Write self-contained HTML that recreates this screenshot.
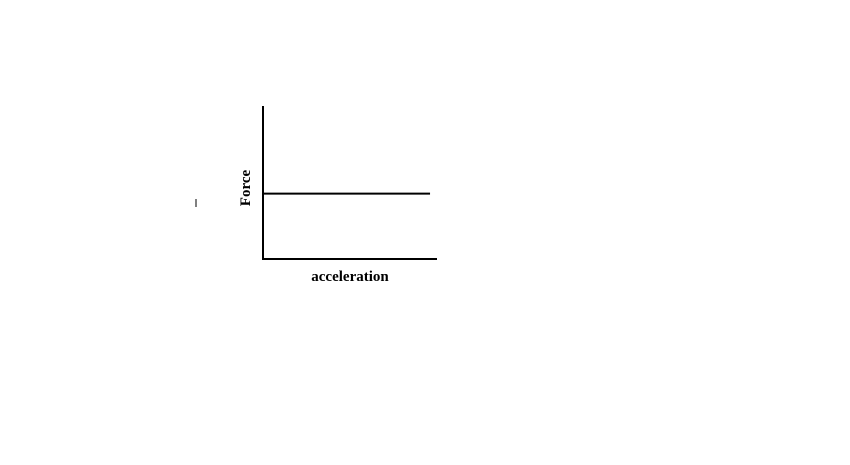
<!DOCTYPE html>
<html><head><meta charset="utf-8"><style>
body{margin:0;background:#fff;width:850px;height:460px;overflow:hidden}
svg text{font-family:"Liberation Serif",serif;font-weight:bold;font-size:15px;fill:#000}
</style></head><body>
<svg id="c" width="850" height="460">
<line x1="196" y1="199" x2="196" y2="207" stroke="#000" stroke-width="1"/>
<line x1="263" y1="106" x2="263" y2="260" stroke="#000" stroke-width="2"/>
<line x1="262" y1="259" x2="437" y2="259" stroke="#000" stroke-width="2"/>
<text x="250" y="188" text-anchor="middle" transform="rotate(-90 250 188)">Force</text>
<text x="350" y="281" text-anchor="middle">acceleration</text>
</svg>
<script>
const xs=[0,0.96];
const forceValues=[0.43,0.43];
const X=v=>263+v*174, Y=v=>259-v*152;
const svg=document.getElementById('c');
const p=document.createElementNS('http://www.w3.org/2000/svg','polyline');
p.setAttribute('points',xs.map((x,i)=>X(x)+','+Y(forceValues[i])).join(' '));
p.setAttribute('fill','none');p.setAttribute('stroke','#000');p.setAttribute('stroke-width','2');


svg.appendChild(p);
</script>
</body></html>
